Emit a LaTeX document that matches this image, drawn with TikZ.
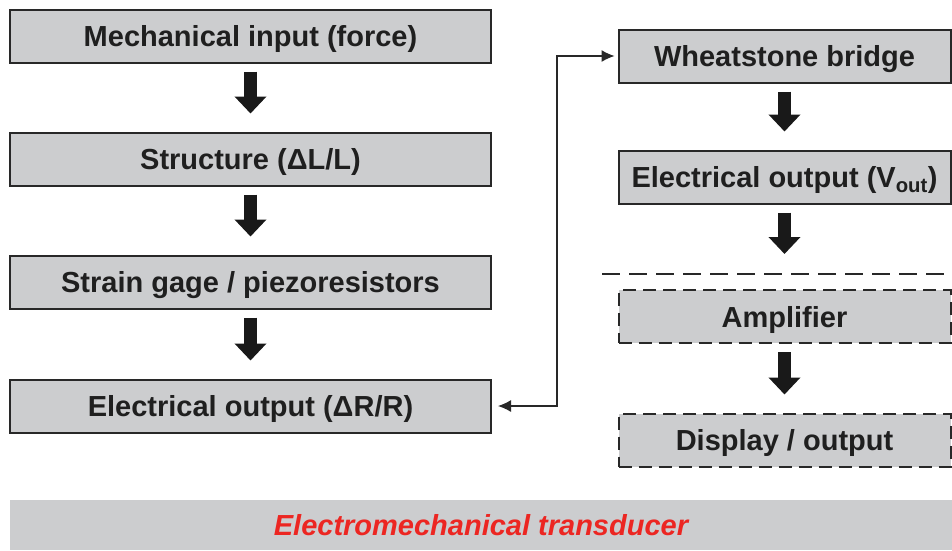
\documentclass[tikz,border=0pt]{standalone}
\usepackage{fontspec}
\setmainfont{Liberation Sans}
\usetikzlibrary{arrows.meta}
\definecolor{boxgray}{RGB}{204,205,207}
\definecolor{edgegray}{RGB}{40,40,40}
\definecolor{bannerred}{RGB}{236,38,34}
\tikzset{
    stage/.style={draw=edgegray, line width=2pt, fill=boxgray, minimum height=53pt,
        inner sep=0pt, text height=21pt, text depth=0pt, text=black!88,
        font=\fontsize{29}{34}\selectfont\bfseries},
    leftstage/.style={stage, minimum width=481pt},
    rightstage/.style={stage, minimum width=332pt},
    optstage/.style={rightstage, dash pattern=on 13pt off 7pt},
    blockarrow/.style={line width=13pt, black!90, -{Triangle[length=17pt,width=31pt]},
        shorten <=8pt, shorten >=18pt},
}
\begin{document}
\begin{tikzpicture}[x=1pt,y=-1pt]
    \useasboundingbox (0,0) rectangle (952,550);

    \node[leftstage] (mech) at (250.5,36) {Mechanical input (force)};
    \node[leftstage] (struct) at (250.5,159) {Structure (ΔL/L)};
    \node[leftstage] (gage) at (250.5,282) {Strain gage / piezoresistors};
    \node[leftstage] (elecR) at (250.5,406) {Electrical output (ΔR/R)};

    \node[rightstage] (wheat) at (784.5,56) {Wheatstone bridge};
    \node[rightstage] (vout) at (784.5,177) {Electrical output (V\textsubscript{out})};
    \node[optstage] (amp) at (784.5,316.5) {Amplifier};
    \node[optstage] (disp) at (784.5,440) {Display / output};

    \node[fill=boxgray, minimum width=942pt, minimum height=50pt, inner sep=0pt,
        text height=21pt, text depth=0pt, text=bannerred,
        font=\fontsize{29}{34}\selectfont\bfseries\itshape]
        (banner) at (481,525) {Electromechanical transducer};

    \foreach \a/\b in {mech/struct, struct/gage, gage/elecR, wheat/vout, amp/disp}
        \draw[blockarrow] (\a) -- (\b);
    \draw[blockarrow, shorten >=35pt] (vout) -- (amp);

    \draw[edgegray, line width=1.2pt, {Latex[length=13pt,width=12pt]}-{Latex[length=13pt,width=12pt]},
        shorten <=6pt, shorten >=3pt] (elecR.east) -- ++(65,0) |- (wheat.west);

    \draw[edgegray, line width=1.4pt, dash pattern=on 18pt off 9pt] (602,274) -- (952,274);
\end{tikzpicture}
\end{document}
